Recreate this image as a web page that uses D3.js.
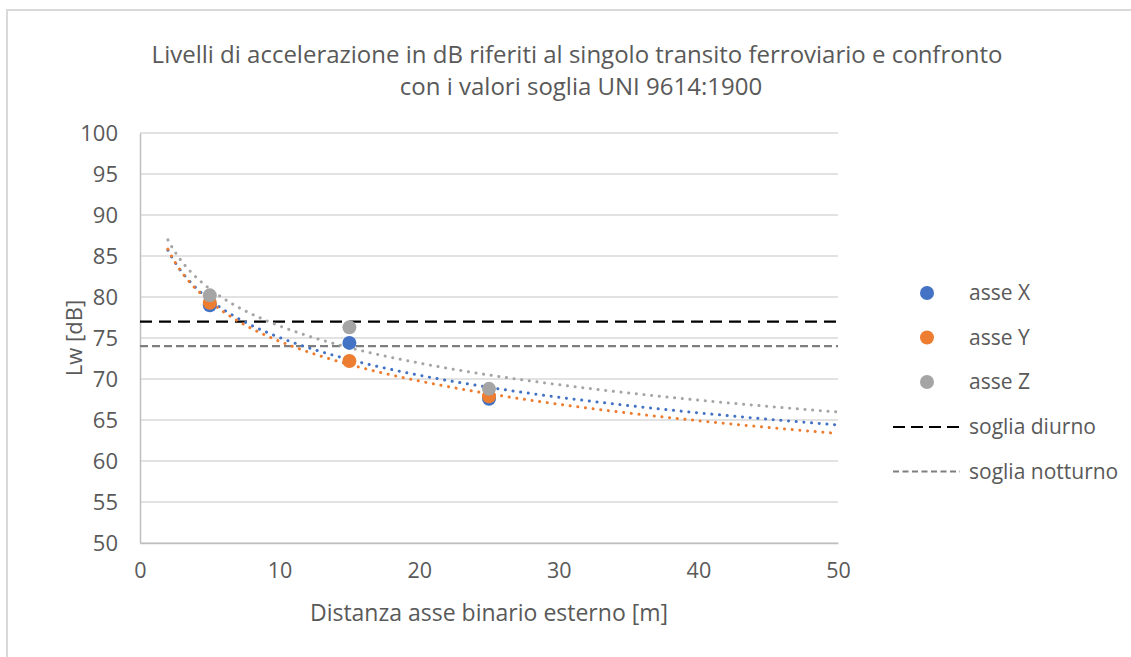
<!DOCTYPE html>
<html>
<head>
<meta charset="utf-8">
<script src="https://cdn.jsdelivr.net/npm/d3@7"></script>
<style>
    body { margin: 0; background: #fff; }
    svg text { font-family: "Open Sans", Carlito, sans-serif; fill: #595959; }
</style>
</head>
<body>
<div id="chart"></div>
<script>
    // distances [m] and measured levels [dB]
    const distances = [5, 15, 25];
    const asseX = [79.0, 74.4, 67.6];
    const asseY = [79.3, 72.2, 67.9];
    const asseZ = [80.2, 76.3, 68.8];
    const sogliaDiurno = 77;
    const sogliaNotturno = 74;
    const xTicks = [0, 10, 20, 30, 40, 50];
    const yTicks = [50, 55, 60, 65, 70, 75, 80, 85, 90, 95, 100];
    const trendRange = [2, 50];

    const series = [
        { name: "asse X", values: asseX, color: "#4472c4" },
        { name: "asse Y", values: asseY, color: "#ed7d31" },
        { name: "asse Z", values: asseZ, color: "#a5a5a5" }
    ];

    const W = 1131, H = 657;
    const margin = { top: 133, right: 293, bottom: 114, left: 140 };
    const width = W - margin.left - margin.right;
    const height = H - margin.top - margin.bottom;

    const svg = d3.select("#chart")
        .append("svg")
        .attr("width", W)
        .attr("height", H);

    // outer chart border
    svg.append("rect")
        .attr("x", 7).attr("y", 10)
        .attr("width", W).attr("height", H)
        .attr("fill", "none")
        .attr("stroke", "#d9d9d9")
        .attr("stroke-width", 2);

    svg.append("text")
        .attr("x", 577).attr("y", 63)
        .attr("text-anchor", "middle")
        .style("font-size", "24px")
        .text("Livelli di accelerazione in dB riferiti al singolo transito ferroviario e confronto");
    svg.append("text")
        .attr("x", 581).attr("y", 95)
        .attr("text-anchor", "middle")
        .style("font-size", "24px")
        .text("con i valori soglia UNI 9614:1900");

    const g = svg.append("g")
        .attr("transform", `translate(${margin.left},${margin.top})`);

    const x = d3.scaleLinear().domain([0, 50]).range([0, width]);
    const y = d3.scaleLinear().domain([50, 100]).range([height, 0]);

    // gridlines
    g.append("g")
        .selectAll("line")
        .data(yTicks)
        .enter().append("line")
        .attr("x1", 0).attr("x2", width)
        .attr("y1", d => y(d)).attr("y2", d => y(d))
        .attr("stroke", "#d9d9d9")
        .attr("stroke-width", 1.5);

    const xAxis = g.append("g")
        .attr("transform", `translate(0,${height})`)
        .call(d3.axisBottom(x).tickValues(xTicks).tickSize(0).tickPadding(20));
    xAxis.select(".domain").attr("stroke", "#bfbfbf").attr("stroke-width", 1.5);
    xAxis.selectAll("text").style("font-size", "21.5px").attr("fill", "#595959");

    const yAxis = g.append("g")
        .call(d3.axisLeft(y).tickValues(yTicks).tickSize(0).tickPadding(22));
    yAxis.select(".domain").attr("stroke", "#bfbfbf").attr("stroke-width", 1.5);
    yAxis.selectAll("text").style("font-size", "22px").attr("fill", "#595959");

    // threshold lines
    g.append("line")
        .attr("x1", x(0)).attr("x2", x(50))
        .attr("y1", y(sogliaDiurno)).attr("y2", y(sogliaDiurno))
        .attr("stroke", "#000").attr("stroke-width", 2.2)
        .attr("stroke-dasharray", "12,7");
    g.append("line")
        .attr("x1", x(0)).attr("x2", x(50))
        .attr("y1", y(sogliaNotturno)).attr("y2", y(sogliaNotturno))
        .attr("stroke", "#7f7f7f").attr("stroke-width", 2.2)
        .attr("stroke-dasharray", "8,4");

    // logarithmic trendlines, least squares on ln(x)
    function logFit(xs, ys) {
        const lx = xs.map(Math.log);
        const mx = d3.mean(lx), my = d3.mean(ys);
        const a = d3.sum(lx, (v, i) => (v - mx) * (ys[i] - my)) / d3.sum(lx, v => (v - mx) * (v - mx));
        const b = my - a * mx;
        return t => a * Math.log(t) + b;
    }

    const line = d3.line().x(d => x(d[0])).y(d => y(d[1]));
    series.forEach(s => {
        const f = logFit(distances, s.values);
        const pts = d3.range(trendRange[0], trendRange[1] + 0.01, 0.25).map(t => [t, f(t)]);
        g.append("path")
            .attr("d", line(pts))
            .attr("fill", "none")
            .attr("stroke", s.color)
            .attr("stroke-width", 3)
            .attr("stroke-linecap", "round")
            .attr("stroke-dasharray", "0.1,7.6");
    });

    series.forEach(s => {
        g.selectAll(null)
            .data(distances.map((d, i) => [d, s.values[i]]))
            .enter().append("circle")
            .attr("cx", d => x(d[0]))
            .attr("cy", d => y(d[1]))
            .attr("r", 7)
            .attr("fill", s.color);
    });

    // axis titles
    svg.append("text")
        .attr("transform", `translate(82,${margin.top + height / 2}) rotate(-90)`)
        .attr("text-anchor", "middle")
        .style("font-size", "22px")
        .text("Lw [dB]");
    svg.append("text")
        .attr("x", margin.left + width / 2).attr("y", 621)
        .attr("text-anchor", "middle")
        .style("font-size", "23px")
        .text("Distanza asse binario esterno [m]");

    // legend
    const legend = svg.append("g");
    series.forEach((s, i) => {
        const ly = 293 + i * 44.5;
        legend.append("circle").attr("cx", 927).attr("cy", ly).attr("r", 7).attr("fill", s.color);
        legend.append("text").attr("x", 969).attr("y", ly + 7).style("font-size", "21px").text(s.name);
    });
    const thr = [
        { name: "soglia diurno", color: "#000", dash: "12,6" },
        { name: "soglia notturno", color: "#7f7f7f", dash: "6,3.5" }
    ];
    thr.forEach((t, i) => {
        const ly = 427 + i * 44.5;
        legend.append("line")
            .attr("x1", 893).attr("x2", 960)
            .attr("y1", ly).attr("y2", ly)
            .attr("stroke", t.color).attr("stroke-width", 2.2)
            .attr("stroke-dasharray", t.dash);
        legend.append("text").attr("x", 969).attr("y", ly + 7).style("font-size", "21px").text(t.name);
    });
</script>
</body>
</html>
